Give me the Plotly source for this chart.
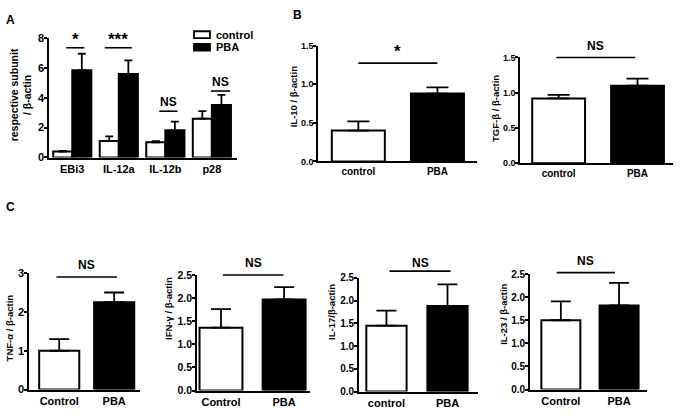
import plotly.graph_objects as go

W, H = 681, 416

# ---------------- data ----------------
a_categories = ["EBi3", "IL-12a", "IL-12b", "p28"]
a_control = [0.40, 1.10, 1.02, 2.60]
a_control_err = [0.05, 0.32, 0.08, 0.50]
a_pba = [5.85, 5.60, 1.82, 3.52]
a_pba_err = [1.10, 0.90, 0.58, 0.68]
a_sig = ["*", "***", "NS", "NS"]
a_sig_line_y = [7.35, 7.35, 3.1, 4.45]

groups_lower = ["control", "PBA"]
groups_upper = ["Control", "PBA"]

il10 = [0.40, 0.88]
il10_err = [0.12, 0.08]
tgf = [0.92, 1.10]
tgf_err = [0.05, 0.10]
tnf = [1.00, 2.25]
tnf_err = [0.30, 0.25]
ifn = [1.36, 1.97]
ifn_err = [0.40, 0.27]
il17 = [1.45, 1.88]
il17_err = [0.33, 0.48]
il23 = [1.50, 1.82]
il23_err = [0.41, 0.49]

FONT = "Liberation Sans, Arial, sans-serif"
fig = go.Figure()

def fx(p):
    return p / W

def fy(p):
    return 1 - p / H

annotations = []
shapes = []

def setup_axis(n, xl, xr, y0px, ytoppx, ymax, dtick, xrange, tickfmt, tfs=10, xfs=10):
    sx = "" if n == 1 else str(n)
    fig.layout["xaxis" + sx] = dict(
        domain=[fx(xl), fx(xr)], range=xrange, anchor="y" + sx,
        showline=True, linecolor="black", linewidth=1.6, ticks="",
        showgrid=False, zeroline=False, type="category",
        tickfont=dict(family=FONT, size=xfs, color="black", weight="bold"),
    )
    fig.layout["yaxis" + sx] = dict(
        domain=[fy(y0px), fy(ytoppx)], range=[0, ymax], anchor="x" + sx,
        showline=True, linecolor="black", linewidth=1.6, ticks="outside",
        ticklen=3, tickwidth=1.5, tickcolor="black", dtick=dtick, tick0=0,
        tickformat=tickfmt, showgrid=False, zeroline=False, ticklabelstandoff=-2,
        tickfont=dict(family=FONT, size=tfs, color="black", weight="bold"),
    )
    return dict(xl=xl, xr=xr, y0=y0px, yt=ytoppx, ymax=ymax, xrange=xrange)

def to_paper(g, xv, yv):
    px = g["xl"] + (xv - g["xrange"][0]) / (g["xrange"][1] - g["xrange"][0]) * (g["xr"] - g["xl"])
    py = g["y0"] - yv / g["ymax"] * (g["y0"] - g["yt"])
    return fx(px), fy(py)

def sig(g, x0, x1, yline, ytext, text, size=12):
    p0 = to_paper(g, x0, yline)
    p1 = to_paper(g, x1, yline)
    shapes.append(dict(type="line", xref="paper", yref="paper", x0=p0[0], x1=p1[0],
                       y0=p0[1], y1=p1[1], line=dict(color="black", width=1.6)))
    pt = to_paper(g, (x0 + x1) / 2, ytext)
    annotations.append(dict(xref="paper", yref="paper", x=pt[0], y=pt[1], text=text,
                            showarrow=False, xanchor="center", yanchor="middle",
                            font=dict(family=FONT, size=size, color="black", weight="bold")))

def ytitle(xpx, ypx, text, size=9.5):
    annotations.append(dict(xref="paper", yref="paper", x=fx(xpx), y=fy(ypx), text=text,
                            textangle=-90, showarrow=False, xanchor="center", yanchor="middle",
                            font=dict(family=FONT, size=size, color="black", weight="bold")))

def label(xpx, ypx, text):
    annotations.append(dict(xref="paper", yref="paper", x=fx(xpx), y=fy(ypx), text=text,
                            showarrow=False, xanchor="center", yanchor="middle",
                            font=dict(family=FONT, size=12, color="black", weight="bold")))

# ---------------- Panel A ----------------
gA = setup_axis(1, 49, 237, 156, 33, 8, 2, [-0.5, 3.54], "d", tfs=11, xfs=11)
bw = 0.41
fig.add_trace(go.Bar(x=a_categories, y=a_control, width=bw, offset=-bw,
                     marker=dict(color="white", line=dict(color="black", width=2)),
                     error_y=dict(type="data", symmetric=False, array=a_control_err,
                                  arrayminus=[0] * 4, color="black", thickness=1.8, width=4),
                     xaxis="x", yaxis="y", showlegend=False))
fig.add_trace(go.Bar(x=a_categories, y=a_pba, width=bw, offset=0,
                     marker=dict(color="black", line=dict(color="black", width=2)),
                     error_y=dict(type="data", symmetric=False, array=a_pba_err,
                                  arrayminus=[0] * 4, color="black", thickness=1.8, width=4),
                     xaxis="x", yaxis="y", showlegend=False))
a_offsets = [(-0.13, 0.26), (-0.30, 0.28), (-0.13, 0.26), (-0.02, 0.39)]
for i, (s, yl) in enumerate(zip(a_sig, a_sig_line_y)):
    o0, o1 = a_offsets[i]
    if s == "NS":
        sig(gA, i + o0, i + o1, yl, yl + 0.62, s, size=12)
    else:
        sig(gA, i + o0, i + o1, yl, yl + 0.55, s, size=17)
# legend (manual, GraphPad style)
for j, (name, col) in enumerate([("control", "white"), ("PBA", "black")]):
    ytop = 26 + j * 13
    shapes.append(dict(type="rect", xref="paper", yref="paper", x0=fx(194), x1=fx(210),
                       y0=fy(ytop + 7), y1=fy(ytop), fillcolor=col,
                       line=dict(color="black", width=1.8)))
    annotations.append(dict(xref="paper", yref="paper", x=fx(214), y=fy(ytop + 3.5), text=name,
                            showarrow=False, xanchor="left", yanchor="middle",
                            font=dict(family=FONT, size=11, color="black", weight="bold")))
ytitle(21, 92, "respective subunit<br>/ β-actin", size=10.5)
label(10, 14, "A")

# ---------------- two-bar panels ----------------
two_panels = [
    dict(n=2, vals=il10, err=il10_err, cats=groups_lower, geo=(318, 477, 160, 41, 1.5, 0.5, [-0.51, 1.5], ".1f"),
         bw=0.67, cap=11, sigx=(-0.0, 1.0), sigy=1.275, sigty=1.43, sigt="*", sigs=17,
         title=(293, 94, "IL-10 / β-actin"), tfs=9, xfs=10),
    dict(n=3, vals=tgf, err=tgf_err, cats=groups_lower, geo=(520, 673, 162, 53, 1.5, 0.5, [-0.49, 1.45], ".1f"),
         bw=0.67, cap=11, sigx=(-0.03, 0.97), sigy=1.5, sigty=1.66, sigt="NS", sigs=12,
         title=(496, 106, "TGF-β / β-actin"), tfs=9, xfs=10),
    dict(n=4, vals=tnf, err=tnf_err, cats=groups_upper, geo=(29, 140, 395, 275, 3, 1, [-0.55, 1.47], "d"),
         bw=0.73, cap=10, sigx=(-0.05, 1.05), sigy=2.9, sigty=3.22, sigt="NS", sigs=12,
         title=(9, 332, "TNF-α / β-actin"), tfs=11, xfs=11),
    dict(n=5, vals=ifn, err=ifn_err, cats=groups_upper, geo=(197, 310, 396, 277, 2.5, 0.5, [-0.38, 1.41], ".1f"),
         bw=0.68, cap=10, sigx=(0.03, 0.99), sigy=2.5, sigty=2.75, sigt="NS", sigs=12,
         title=(168, 312, "IFN-γ / β-actin"), tfs=10.5, xfs=11),
    dict(n=6, vals=il17, err=il17_err, cats=groups_lower, geo=(359, 478, 397, 280, 2.5, 0.5, [-0.45, 1.5], ".1f"),
         bw=0.66, cap=10, sigx=(0.05, 1.05), sigy=2.65, sigty=2.82, sigt="NS", sigs=12,
         title=(332, 315, "IL-17/β-actin"), tfs=10, xfs=11),
    dict(n=7, vals=il23, err=il23_err, cats=groups_upper, geo=(530, 647, 395, 276, 2.5, 0.5, [-0.53, 1.48], ".1f"),
         bw=0.67, cap=10, sigx=(-0.07, 0.93), sigy=2.53, sigty=2.78, sigt="NS", sigs=12,
         title=(504, 318, "IL-23 / β-actin"), tfs=10, xfs=11),
]

for p in two_panels:
    xl, xr, y0, yt, ymax, dt, xr_, fmt = p["geo"]
    g = setup_axis(p["n"], xl, xr, y0, yt, ymax, dt, xr_, fmt, tfs=p["tfs"], xfs=p["xfs"])
    sx = str(p["n"])
    fig.add_trace(go.Bar(x=p["cats"], y=p["vals"], width=p["bw"],
                         marker=dict(color=["white", "black"], line=dict(color="black", width=2)),
                         error_y=dict(type="data", symmetric=False, array=p["err"],
                                      arrayminus=[0, 0], color="black", thickness=1.8, width=p["cap"]),
                         xaxis="x" + sx, yaxis="y" + sx, showlegend=False))
    sig(g, p["sigx"][0], p["sigx"][1], p["sigy"], p["sigty"], p["sigt"], size=p["sigs"])
    tx, ty, tt = p["title"]
    ytitle(tx, ty, tt, size=9.5)

label(297, 9, "B")
label(10, 207, "C")

fig.update_layout(
    width=W, height=H, margin=dict(l=0, r=0, t=0, b=0),
    paper_bgcolor="white", plot_bgcolor="white",
    barmode="overlay", showlegend=False,
    annotations=annotations, shapes=shapes,
    font=dict(family=FONT, color="black"),
)

fig.write_html("out.html", config={"displayModeBar": False},
               post_script="document.body.style.margin='0px';document.body.style.overflow='hidden';")
